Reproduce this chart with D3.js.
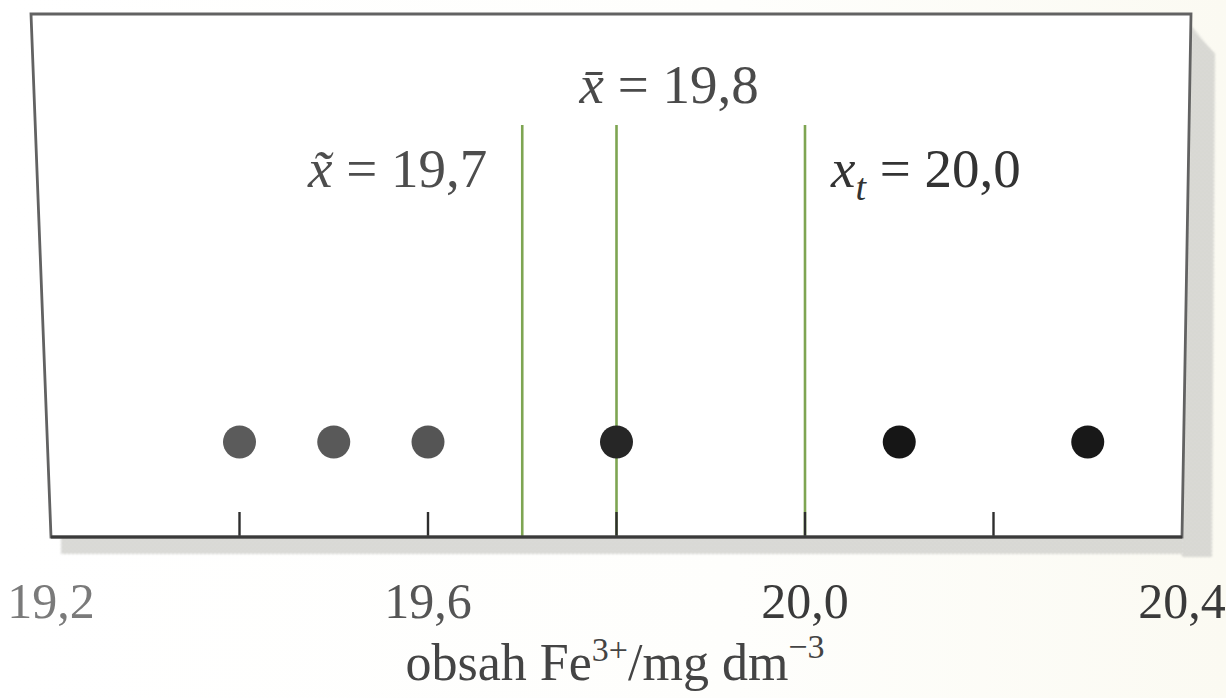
<!DOCTYPE html>
<html>
<head>
<meta charset="utf-8">
<script src="https://cdn.jsdelivr.net/npm/d3@7"></script>
<style>
  html, body { margin: 0; padding: 0; background: #fdfdfa; }
  svg { display: block; }
  text { font-family: "Liberation Serif", "DejaVu Serif", serif; }
</style>
</head>
<body>
<svg id="chart" width="1226" height="698"></svg>
<script>
// Measured iron(III) contents, mg dm^-3
const measurements = [19.4, 19.5, 19.6, 19.8, 20.1, 20.3];
const pointShades = ["#5b5b5b", "#595959", "#555555", "#262626", "#161616", "#181818"];

// Reference lines: median, mean and true value
const refValues = [19.7, 19.8, 20.0];

// Axis
const axisDomain = [19.2, 20.4];
const minorTicks = [19.4, 19.6, 19.8, 20.0, 20.2];
const tickLabelValues = [19.2, 19.6, 20.0, 20.4];
const tickLabelText = ["19,2", "19,6", "20,0", "20,4"];
const tickLabelShades = ["#7a7a7a", "#555555", "#3a3a3a", "#3a3a3a"];

const svg = d3.select("#chart");
const W = 1226, H = 698;

const plotTop = 14, plotBottom = 537;
const x = d3.scaleLinear().domain(axisDomain).range([51, 1182]);

// paper tint, slightly warmer toward the right
const defs = svg.append("defs");
const paper = defs.append("linearGradient").attr("id", "paper")
  .attr("x1", 0).attr("x2", 1).attr("y1", 0).attr("y2", 0);
paper.append("stop").attr("offset", "0%").attr("stop-color", "#ffffff");
paper.append("stop").attr("offset", "60%").attr("stop-color", "#fefefc");
paper.append("stop").attr("offset", "100%").attr("stop-color", "#fbfaf2");
svg.append("rect").attr("width", W).attr("height", H).attr("fill", "url(#paper)");

// halftone drop shadow
const dots = defs.append("pattern").attr("id", "halftone")
  .attr("width", 4).attr("height", 4).attr("patternUnits", "userSpaceOnUse");
dots.append("rect").attr("width", 4).attr("height", 4).attr("fill", "#e8e8e4");
dots.append("circle").attr("cx", 1).attr("cy", 1).attr("r", 1.1).attr("fill", "#b0b0ac");
dots.append("circle").attr("cx", 3).attr("cy", 3).attr("r", 1.1).attr("fill", "#b0b0ac");
const fade = defs.append("filter").attr("id", "soft");
fade.append("feGaussianBlur").attr("stdDeviation", 1.2);

const xl = x(axisDomain[0]), xr = x(axisDomain[1]);
// slight perspective on the frame: top corners sit a little apart from the bottom ones
const topLeft = xl - 20, topRight = xr + 9;

svg.append("path")
  .attr("d", `M${xl + 10},${plotBottom} L${xr + 1},${plotBottom} L${xr + 1},${plotBottom + 17}
              L${xl + 10},${plotBottom + 17} Z`)
  .attr("fill", "url(#halftone)").attr("opacity", 0.8).attr("filter", "url(#soft)");
svg.append("path")
  .attr("d", `M${topRight},${plotTop + 12} L${topRight + 24},${plotTop + 40}
              L${xr + 30},${plotBottom + 20} L${xr},${plotBottom + 20} L${xr},${plotBottom} Z`)
  .attr("fill", "url(#halftone)").attr("opacity", 0.8).attr("filter", "url(#soft)");

// white plot panel
svg.append("path")
  .attr("d", `M${topLeft},${plotTop} L${topRight},${plotTop} L${xr},${plotBottom} L${xl},${plotBottom} Z`)
  .attr("fill", "#ffffff");

// reference lines
const refTop = 125;
svg.append("g").selectAll("line").data(refValues).join("line")
  .attr("x1", d => x(d)).attr("x2", d => x(d))
  .attr("y1", refTop).attr("y2", plotBottom)
  .attr("stroke", "#7ea552").attr("stroke-width", 2.6);

// inner ticks along the bottom edge
svg.append("g").selectAll("line").data(minorTicks).join("line")
  .attr("x1", d => x(d)).attr("x2", d => x(d))
  .attr("y1", plotBottom - 25).attr("y2", plotBottom)
  .attr("stroke", "#2e2e2e").attr("stroke-width", 2.4);

// frame
svg.append("path")
  .attr("d", `M${topLeft},${plotTop} L${topRight},${plotTop} L${xr},${plotBottom} L${xl},${plotBottom} Z`)
  .attr("fill", "none")
  .attr("stroke", "#626262").attr("stroke-width", 2.8).attr("stroke-linejoin", "miter");
svg.append("line")
  .attr("x1", xl).attr("x2", xr).attr("y1", plotBottom).attr("y2", plotBottom)
  .attr("stroke", "#3a3a3a").attr("stroke-width", 3);

// data points
const pointY = 442;
svg.append("g").selectAll("circle").data(measurements).join("circle")
  .attr("cx", d => x(d)).attr("cy", pointY).attr("r", 16.5)
  .attr("fill", (d, i) => pointShades[i]);

// tick labels
svg.append("g").selectAll("text").data(tickLabelValues).join("text")
  .attr("x", d => x(d)).attr("y", 618)
  .attr("text-anchor", "middle")
  .attr("font-size", 50)
  .attr("fill", (d, i) => tickLabelShades[i])
  .text((d, i) => tickLabelText[i]);

// axis title
const title = svg.append("text")
  .attr("x", 615).attr("y", 680).attr("text-anchor", "middle")
  .attr("font-size", 52).attr("fill", "#444");
title.append("tspan").text("obsah Fe");
title.append("tspan").attr("dy", -19).attr("font-size", 34).text("3+");
title.append("tspan").attr("dy", 19).text("/mg dm");
title.append("tspan").attr("dy", -22).attr("font-size", 34).text("\u22123");

// statistic labels
const medianLabel = svg.append("text")
  .attr("x", x(refValues[0]) - 35).attr("y", 187).attr("text-anchor", "end")
  .attr("font-size", 55).attr("fill", "#4d4d4d");
medianLabel.append("tspan").attr("font-style", "italic").text("x\u0303");
medianLabel.append("tspan").text(" = 19,7");

const meanLabel = svg.append("text")
  .attr("x", x(refValues[1]) - 37).attr("y", 103).attr("text-anchor", "start")
  .attr("font-size", 55).attr("fill", "#4a4a4a");
meanLabel.append("tspan").attr("font-style", "italic").text("x\u0304");
meanLabel.append("tspan").text(" = 19,8");

const trueLabel = svg.append("text")
  .attr("x", x(refValues[2]) + 26).attr("y", 187).attr("text-anchor", "start")
  .attr("font-size", 55).attr("fill", "#333");
trueLabel.append("tspan").attr("font-style", "italic").text("x");
trueLabel.append("tspan").attr("font-style", "italic").attr("font-size", 38).attr("dy", 13).text("t");
trueLabel.append("tspan").attr("dy", -13).text(" = 20,0");
</script>
</body>
</html>
